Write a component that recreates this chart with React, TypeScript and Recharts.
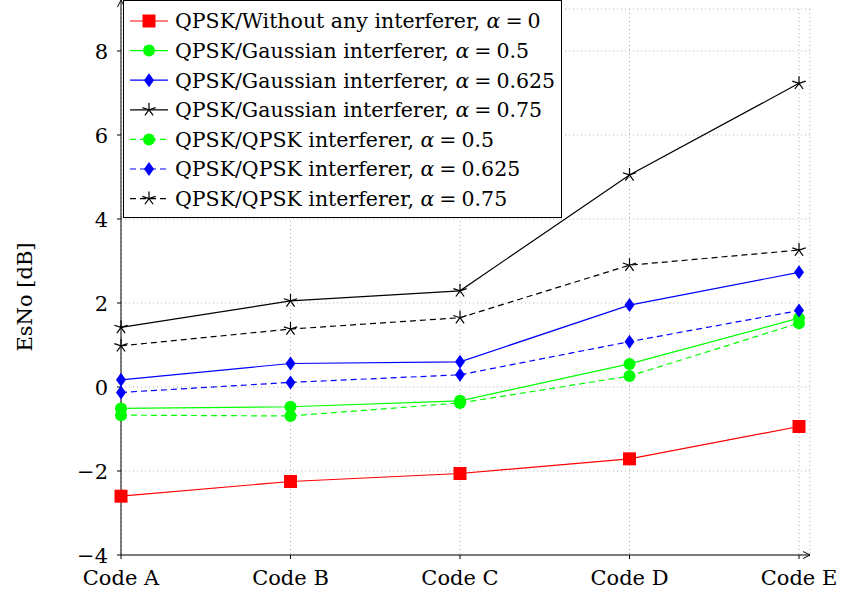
import React from 'react';
import { LineChart, Line, XAxis, YAxis, CartesianGrid } from 'recharts';

const codes = ['Code A', 'Code B', 'Code C', 'Code D', 'Code E'];
const noInterferer = [-2.6, -2.25, -2.06, -1.71, -0.94];
const gauss05 = [-0.51, -0.47, -0.33, 0.55, 1.64];
const gauss0625 = [0.17, 0.56, 0.6, 1.95, 2.73];
const gauss075 = [1.42, 2.05, 2.29, 5.05, 7.23];
const qpsk05 = [-0.67, -0.69, -0.38, 0.26, 1.52];
const qpsk0625 = [-0.13, 0.11, 0.29, 1.08, 1.82];
const qpsk075 = [0.98, 1.38, 1.65, 2.9, 3.26];
const yTicks = [-4, -2, 0, 2, 4, 6, 8];

const FONT = 'DejaVu Serif';
const FS = 21;
const LEGEND_FS = 20.5;

const data = codes.map((c, i) => ({
  code: c,
  none: noInterferer[i],
  g05: gauss05[i],
  g0625: gauss0625[i],
  g075: gauss075[i],
  q05: qpsk05[i],
  q0625: qpsk0625[i],
  q075: qpsk075[i],
}));

type Marker = 'square' | 'circle' | 'diamond' | 'star';

const series: { key: string; name: string; alpha: string; color: string; dashed: boolean; marker: Marker }[] = [
  { key: 'none', name: 'QPSK/Without any interferer, ', alpha: '0', color: '#ff0000', dashed: false, marker: 'square' },
  { key: 'g05', name: 'QPSK/Gaussian interferer, ', alpha: '0.5', color: '#00ff00', dashed: false, marker: 'circle' },
  { key: 'g0625', name: 'QPSK/Gaussian interferer, ', alpha: '0.625', color: '#0000ff', dashed: false, marker: 'diamond' },
  { key: 'g075', name: 'QPSK/Gaussian interferer, ', alpha: '0.75', color: '#000000', dashed: false, marker: 'star' },
  { key: 'q05', name: 'QPSK/QPSK interferer, ', alpha: '0.5', color: '#00ff00', dashed: true, marker: 'circle' },
  { key: 'q0625', name: 'QPSK/QPSK interferer, ', alpha: '0.625', color: '#0000ff', dashed: true, marker: 'diamond' },
  { key: 'q075', name: 'QPSK/QPSK interferer, ', alpha: '0.75', color: '#000000', dashed: true, marker: 'star' },
];

const drawMarker = (m: Marker, cx: number, cy: number, color: string, key?: any) => {
  if (m === 'square') return <rect key={key} x={cx - 6.5} y={cy - 6.5} width={13} height={13} fill={color} />;
  if (m === 'circle') return <circle key={key} cx={cx} cy={cy} r={6} fill={color} />;
  if (m === 'diamond')
    return <path key={key} d={`M${cx},${cy - 7} L${cx + 5},${cy} L${cx},${cy + 7} L${cx - 5},${cy} Z`} fill={color} />;
  const arms = [0, 1, 2, 3, 4].map((k) => {
    const a = (-90 + 72 * k) * (Math.PI / 180);
    return `M${cx},${cy} L${cx + 7 * Math.cos(a)},${cy + 7 * Math.sin(a)}`;
  });
  return <path key={key} d={arms.join(' ')} stroke={color} strokeWidth={1.2} fill="none" />;
};

const fmt = (v: number) => (v < 0 ? '\u2212' + Math.abs(v) : String(v));

const XTick = (props: any) => {
  const { x, y, payload } = props;
  return (
    <text x={x} y={y} dy="0.75em" textAnchor="middle" fontFamily={FONT} fontSize={FS} fill="#000">
      {payload.value}
    </text>
  );
};

const YTick = (props: any) => {
  const { x, y, payload } = props;
  return (
    <text x={x} y={y} dy="0.36em" textAnchor="end" fontFamily={FONT} fontSize={FS} fill="#000">
      {fmt(payload.value)}
    </text>
  );
};

const YLabel = (props: any) => {
  const { viewBox } = props;
  const ax = viewBox.x + viewBox.width;
  const top = viewBox.y;
  return (
    <g>
      <text x={25} y={297} transform="rotate(-90 25 297)" textAnchor="middle" dominantBaseline="central"
        fontFamily={FONT} fontSize={FS} fill="#000">EsNo [dB]</text>
      <line x1={ax} y1={top} x2={ax} y2={top - 8} stroke="#000" strokeWidth={1} />
      <path d={`M${ax - 3.5},${top - 2} L${ax},${top - 9} L${ax + 3.5},${top - 2}`} fill="none" stroke="#000" strokeWidth={1} />
    </g>
  );
};

const XLabel = (props: any) => {
  const { viewBox } = props;
  const y = viewBox.y;
  const right = viewBox.x + viewBox.width;
  return (
    <path d={`M${right - 7},${y - 3.5} L${right},${y} L${right - 7},${y + 3.5}`} fill="none" stroke="#000" strokeWidth={1} />
  );
};

const LegendBox = () => (
  <svg width={846} height={230} style={{ position: 'absolute', left: 0, top: 0, pointerEvents: 'none' }}>
    <rect x={123.5} y={0.5} width={438} height={217} fill="#fff" stroke="#000" strokeWidth={1} />
    {series.map((s, i) => {
      const cy = 21 + i * 29.6;
      return (
        <g key={s.key}>
          <line x1={130} y1={cy} x2={168} y2={cy} stroke={s.color} strokeWidth={1.2}
            strokeDasharray={s.dashed ? '6 4' : undefined} />
          {drawMarker(s.marker, 149, cy, s.color)}
          <text x={175} y={cy} dy="0.36em" fontFamily={FONT} fontSize={LEGEND_FS} fill="#000">
            {s.name}
            <tspan fontStyle="italic">{'\u03b1'}</tspan>
            <tspan dx={5}>=</tspan>
            <tspan dx={5}>{s.alpha}</tspan>
          </text>
        </g>
      );
    })}
  </svg>
);

export default function App() {
  return (
    <div style={{ position: 'absolute', left: 0, top: 0, width: 846, height: 593, background: '#fff' }}>
      <LineChart width={846} height={593} data={data} margin={{ top: 9, right: 36, left: 0, bottom: 0 }}>
        <CartesianGrid stroke="#b0b0b0" strokeDasharray="1 3" />
        <XAxis
          dataKey="code"
          height={38}
          padding={{ left: 0, right: 11 }}
          tickSize={4}
          tickMargin={10}
          axisLine={{ stroke: '#000' }}
          tickLine={{ stroke: '#000' }}
          tick={<XTick />}
          interval={0}
          label={<XLabel />}
        />
        <YAxis
          type="number"
          domain={[-4, 9]}
          ticks={yTicks}
          width={121}
          tickSize={4}
          tickMargin={9}
          axisLine={{ stroke: '#000' }}
          tickLine={{ stroke: '#000' }}
          tick={<YTick />}
          allowDataOverflow
          label={<YLabel />}
        />
        {series.map((s) => (
          <Line
            key={s.key}
            dataKey={s.key}
            type="linear"
            stroke={s.color}
            strokeWidth={1.2}
            strokeDasharray={s.dashed ? '6 4' : undefined}
            isAnimationActive={false}
            dot={(p: any) => drawMarker(s.marker, p.cx, p.cy, s.color, p.index)}
            activeDot={false}
          />
        ))}
      </LineChart>
      <LegendBox />
    </div>
  );
}
